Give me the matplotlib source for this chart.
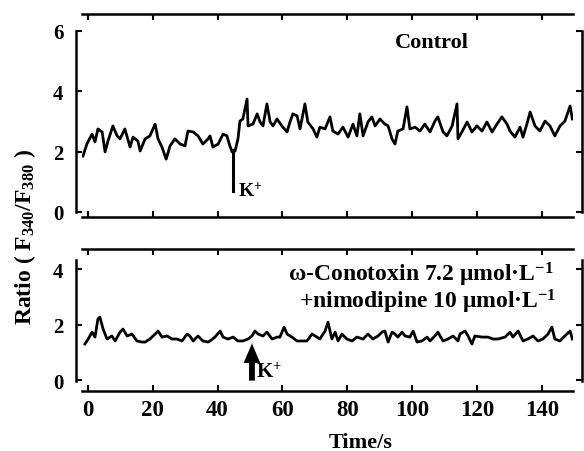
import numpy as np
import matplotlib
matplotlib.use('Agg')
import matplotlib.pyplot as plt

plt.rcParams['font.family'] = ['Liberation Serif', 'DejaVu Serif']
plt.rcParams['font.weight'] = 'bold'
plt.rcParams['mathtext.fontset'] = 'custom'
plt.rcParams['mathtext.rm'] = 'Liberation Serif'
plt.rcParams['mathtext.bf'] = 'Liberation Serif:bold'
plt.rcParams['mathtext.default'] = 'bf'

# Control trace (time s, ratio)
t_ctrl = [-1.4, -0.2, 1.4, 2.3, 3.2, 4.5, 5.4, 6.3, 7.8, 9.1,
          10.0, 11.5, 13.1, 14.0, 15.5, 16.2, 17.7, 19.2, 20.8, 21.7,
          22.9, 24.2, 25.4, 26.9, 28.5, 30.0, 30.9, 32.5, 34.0, 35.5,
          37.1, 37.7, 38.6, 40.2, 41.7, 42.9, 43.8, 44.5, 45.4, 46.3,
          46.9, 47.8, 49.1, 49.4, 50.9, 52.2, 53.1, 54.0, 55.2, 56.2,
          57.1, 58.3, 59.8, 61.4, 62.3, 63.2, 64.5, 65.4, 66.9, 67.8,
          69.4, 70.6, 71.5, 73.1, 74.6, 75.5, 77.1, 78.6, 80.2, 81.7,
          82.9, 83.8, 84.8, 86.3, 87.5, 88.5, 90.0, 91.5, 92.5, 93.7,
          94.6, 95.5, 97.1, 98.3, 99.2, 100.8, 102.3, 103.8, 105.4, 106.9,
          107.8, 109.4, 110.6, 112.2, 113.7, 114.0, 115.2, 116.8, 118.3, 119.8,
          121.4, 122.9, 124.5, 126.0, 127.5, 129.1, 130.0, 131.5, 133.1, 134.0,
          135.2, 136.2, 137.7, 139.2, 140.8, 142.3, 143.8, 145.4, 146.9, 148.5,
          149.2]
r_ctrl = [1.85, 2.25, 2.58, 2.32, 2.75, 2.65, 1.99, 2.35, 2.85, 2.52,
          2.42, 2.75, 2.15, 2.48, 2.35, 2.02, 2.42, 2.52, 2.91, 2.42,
          2.15, 1.75, 2.19, 2.42, 2.25, 2.19, 2.68, 2.65, 2.52, 2.25,
          2.42, 2.52, 2.15, 2.25, 2.58, 2.52, 2.19, 1.99, 2.02, 2.42,
          3.01, 3.08, 3.74, 2.85, 2.91, 3.25, 2.98, 2.85, 3.58, 2.98,
          2.85, 3.08, 2.85, 2.65, 2.98, 3.25, 3.18, 2.75, 3.58, 2.98,
          2.75, 2.48, 2.81, 2.75, 3.15, 2.68, 2.58, 2.81, 2.48, 2.91,
          2.52, 3.25, 2.52, 2.98, 3.15, 2.85, 3.08, 2.91, 2.85, 2.42,
          2.25, 2.68, 2.75, 3.48, 2.75, 2.81, 2.68, 2.91, 2.65, 3.01,
          3.15, 2.65, 2.52, 2.85, 3.58, 2.42, 2.65, 2.98, 2.65, 2.85,
          2.68, 2.98, 2.65, 2.91, 3.15, 2.91, 2.68, 2.48, 2.81, 2.48,
          2.91, 3.31, 2.85, 2.68, 3.01, 2.85, 2.52, 2.85, 3.01, 3.51,
          3.08]

# omega-conotoxin + nimodipine trace
t_blk = [-0.8, 0.2, 1.4, 2.3, 3.2, 3.8, 4.8, 6.0, 7.5, 8.5,
         10.0, 10.9, 12.2, 13.7, 15.2, 16.8, 17.7, 19.2, 20.8, 21.7,
         22.9, 24.5, 26.0, 27.5, 29.1, 30.6, 31.5, 32.5, 34.0, 35.5,
         37.1, 37.7, 39.2, 40.8, 41.7, 43.2, 44.8, 46.3, 47.8, 49.4,
         50.6, 51.5, 52.5, 54.0, 55.2, 56.8, 58.3, 59.2, 60.5, 61.4,
         62.9, 64.5, 66.0, 67.5, 69.1, 70.6, 71.5, 73.1, 74.0, 75.2,
         76.2, 77.1, 78.3, 79.8, 81.4, 82.9, 84.8, 86.3, 87.8, 89.4,
         90.6, 91.5, 92.5, 93.7, 94.6, 95.5, 96.8, 97.7, 99.2, 100.2,
         101.4, 102.9, 104.5, 105.4, 106.9, 107.8, 109.4, 110.9, 112.5, 114.0,
         114.6, 116.2, 117.1, 118.3, 119.2, 121.4, 123.2, 124.8, 126.3, 128.5,
         130.0, 130.9, 132.5, 134.0, 135.5, 137.1, 138.6, 140.1, 141.7, 142.9,
         143.8, 145.4, 146.9, 148.5, 149.2]
r_blk = [1.30, 1.48, 1.73, 1.55, 2.20, 2.27, 1.84, 1.48, 1.59, 1.41,
         1.73, 1.84, 1.59, 1.66, 1.41, 1.37, 1.37, 1.48, 1.66, 1.77,
         1.55, 1.59, 1.48, 1.48, 1.41, 1.66, 1.59, 1.41, 1.59, 1.41,
         1.37, 1.41, 1.55, 1.77, 1.55, 1.48, 1.55, 1.41, 1.41, 1.48,
         1.59, 1.77, 1.66, 1.59, 1.73, 1.48, 1.55, 1.55, 1.91, 1.66,
         1.55, 1.41, 1.41, 1.41, 1.66, 1.55, 1.48, 1.77, 2.09, 1.48,
         1.73, 1.41, 1.66, 1.48, 1.41, 1.55, 1.48, 1.66, 1.48, 1.59,
         1.73, 1.77, 1.37, 1.73, 1.66, 1.55, 1.73, 1.59, 1.55, 1.77,
         1.37, 1.41, 1.55, 1.41, 1.59, 1.73, 1.41, 1.48, 1.59, 1.41,
         1.66, 1.77, 1.59, 1.30, 1.59, 1.55, 1.55, 1.48, 1.48, 1.55,
         1.73, 1.55, 1.77, 1.41, 1.48, 1.59, 1.41, 1.48, 1.66, 1.91,
         1.48, 1.41, 1.59, 1.77, 1.48]

x_ticks = [0, 20, 40, 60, 80, 100, 120, 140]
k_ctrl = 44.8   # K+ added, control
k_blk = 50.6    # K+ added, blocked

fig = plt.figure(figsize=(5.84, 4.52), dpi=100)
ax1 = fig.add_axes([0.1404, 0.5177, 0.8408, 0.4491])
ax2 = fig.add_axes([0.1404, 0.1327, 0.8408, 0.3142])

for ax, ybounds, yt in [(ax1, (0, 6), [0, 2, 4, 6]), (ax2, (-0.05, 4.35), [0, 2, 4])]:
    ax.set_xlim(-1.7, 149.4)
    ax.set_xticks(x_ticks)
    ax.set_yticks(yt)
    for s in ax.spines.values():
        s.set_linewidth(1.8)
    ax.spines['left'].set_position(('outward', 4.3))
    ax.spines['right'].set_position(('outward', 6.5))
    ax.spines['left'].set_bounds(*ybounds)
    ax.spines['right'].set_bounds(*ybounds)
    ax.tick_params(axis='both', direction='in', width=1.5, length=4,
                   top=True, bottom=True, left=True, right=True)
    ax.tick_params(axis='y', labelsize=15, pad=9)
    ax.tick_params(axis='x', labelsize=16.5, pad=6)

ax1.set_ylim(-0.166, 6.556)
ax2.set_ylim(-0.397, 4.73)
ax1.tick_params(labelbottom=False)

ax1.plot(t_ctrl, r_ctrl, color='k', lw=2.0)
ax2.plot(t_blk, r_blk, color='k', lw=2.0)

# K+ markers
ax1.plot([k_ctrl, k_ctrl], [0.7, 2.05], color='k', lw=2.2)
ax1.text(k_ctrl + 1.5, 0.72, 'K$^{+}$', fontsize=14, va='center', ha='left')
ax2.annotate('', xy=(k_blk, 1.32), xytext=(k_blk, -0.02),
             arrowprops=dict(arrowstyle='simple,head_length=1.0,head_width=0.85,tail_width=0.3',
                             fc='k', ec='k', lw=0, mutation_scale=14,
                             shrinkA=0, shrinkB=0))
ax2.text(k_blk + 1.2, 0.3, 'K$^{+}$', fontsize=15, va='center', ha='left')

ax1.text(0.713, 0.86, 'Control', transform=ax1.transAxes, fontsize=16, ha='center', va='center')
ax2.text(0.96, 0.824, 'ω-Conotoxin 7.2 μmol·L$^{-1}$', transform=ax2.transAxes,
         fontsize=17, ha='right', va='center')
ax2.text(0.965, 0.634, '+nimodipine 10 μmol·L$^{-1}$', transform=ax2.transAxes,
         fontsize=17, ha='right', va='center')

fig.text(0.043, 0.476, 'Ratio ( F$_{340}$/F$_{380}$ )', rotation=90, fontsize=17,
         ha='center', va='center')
fig.text(0.617, 0.02, 'Time/s', fontsize=16, ha='center', va='center')

fig.savefig('out.png', dpi=100)
